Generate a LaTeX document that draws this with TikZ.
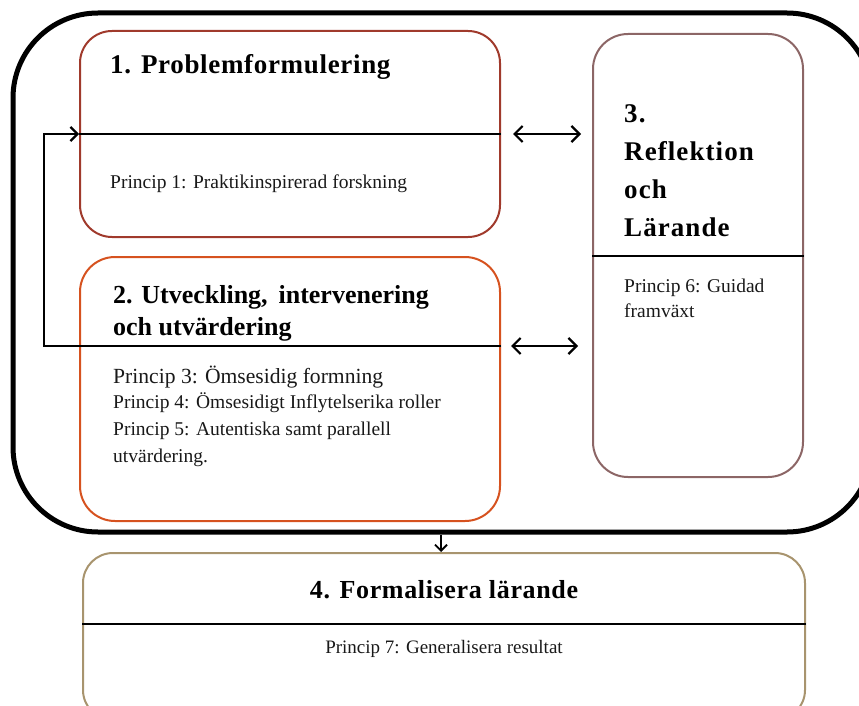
\documentclass[tikz,border=0pt]{standalone}
\usepackage{fontspec}
\setmainfont{Liberation Serif}
\newfontfamily\spacedfont[LetterSpace=2.5]{Liberation Serif}
\newfontfamily\widefont[LetterSpace=4]{Liberation Serif}
\usetikzlibrary{arrows.meta,positioning}

\definecolor{probred}{HTML}{A03A2C}
\definecolor{devorange}{HTML}{D6521F}
\definecolor{reflmauve}{HTML}{8C6666}
\definecolor{formtan}{HTML}{A8946E}

\begin{document}
\begin{tikzpicture}[x=1pt,y=-1pt]
\tikzset{
  stagebox/.style={rectangle,line width=2pt,inner sep=0pt},
  cyclebox/.style={rectangle,draw=black,line width=5pt,rounded corners=85pt,inner sep=0pt},
  titletext/.style={anchor=base west,inner sep=0pt,font=\fontsize{26}{32}\selectfont\bfseries,align=left},
  bodytext/.style={anchor=base west,inner sep=0pt,font=\fontsize{19.5}{26}\selectfont,align=left,text=black!90},
  divider/.style={draw=black,line width=1.5pt},
  loopline/.style={draw=black,line width=1.5pt,-{Straight Barb[length=7pt,width=14pt,line width=2.2pt]}},
  dblarrow/.style={draw=black,line width=2.2pt,{Straight Barb[length=8pt,width=16pt]}-{Straight Barb[length=8pt,width=16pt]}},
  downarrow/.style={draw=black,line width=1.8pt,-{Straight Barb[length=6pt,width=12pt]}}
}
\path[use as bounding box,clip] (0,0) rectangle (859,706);
% outer cycle and the four stages
\node[cyclebox,minimum width=859pt,minimum height=519pt] (n_cycle) at (442.5,272.5) {};
\node[stagebox,draw=probred,rounded corners=32pt,minimum width=420pt,minimum height=206pt] (n_prob) at (290,134) {};
\node[stagebox,draw=devorange,rounded corners=35pt,minimum width=420pt,minimum height=264pt] (n_dev) at (290,389) {};
\node[stagebox,draw=reflmauve,rounded corners=35pt,minimum width=210pt,minimum height=443pt] (n_refl) at (698,255.5) {};
\node[stagebox,draw=formtan,rounded corners=30pt,minimum width=722pt,minimum height=167pt] (n_form) at (444,636.5) {};
% titles (multi-line nodes sit on their last baseline)
\node[titletext,font=\fontsize{27}{32}\selectfont\spacedfont\bfseries] (t_prob) at (110,74) {1. Problemformulering};
\node[titletext] (t_dev) at (113,335) {2. Utveckling,\, intervenering\\och utvärdering};
\node[titletext,font=\fontsize{27}{38}\selectfont\widefont\bfseries] (t_refl) at (624,236) {3.\\Reflektion\\och\\Lärande};
\node[titletext,anchor=base,font=\fontsize{26}{30}\selectfont\spacedfont\bfseries] (t_form) at (444,598) {4. Formalisera lärande};
% principles
\node[bodytext] (p_one) at (110,188) {Princip 1: Praktikinspirerad forskning};
\node[bodytext,font=\fontsize{21.6}{26}\selectfont] (p_three) at (113,383) {Princip 3: Ömsesidig formning};
\node[bodytext] (p_four) at (113,408) {Princip 4: Ömsesidigt Inflytelserika roller};
\node[bodytext,font=\fontsize{19.5}{27}\selectfont] (p_five) at (113,462) {Princip 5: Autentiska samt parallell\\utvärdering.};
\node[bodytext,font=\fontsize{19.5}{25}\selectfont] (p_six) at (624,317) {Princip 6: Guidad\\framväxt};
\node[bodytext,anchor=base,font=\fontsize{19}{22}\selectfont] (p_seven) at (444,653) {Princip 7: Generalisera resultat};
% dividers and connectors
\coordinate (c_loop) at (44,346);
\coordinate (c_refl) at (0,256);
\coordinate (c_form) at (0,624);
\coordinate (c_drop) at ([xshift=-3pt]n_form.north);
\draw[divider] (n_prob.west) -- (n_prob.east);
\draw[divider] (n_refl.west |- c_refl) -- (n_refl.east |- c_refl);
\draw[divider] (n_form.west |- c_form) -- (n_form.east |- c_form);
\draw[loopline] (n_dev.east |- c_loop) -- (c_loop) |- (n_prob.west);
\draw[dblarrow] ([xshift=12pt]n_prob.east) -- ([xshift=-11pt]n_refl.west |- n_prob.east);
\draw[dblarrow] ([xshift=10pt]n_dev.east |- c_loop) -- ([xshift=-14pt]n_refl.west |- c_loop);
\draw[downarrow] (n_cycle.south -| c_drop) -- (c_drop);
\end{tikzpicture}
\end{document}
